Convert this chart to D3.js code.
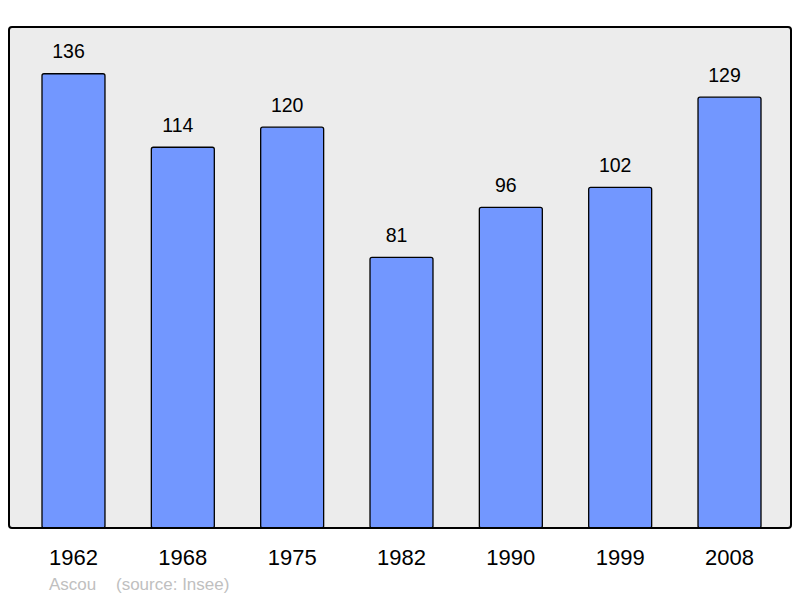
<!DOCTYPE html>
<html><head><meta charset="utf-8">
<script src="https://cdn.jsdelivr.net/npm/d3@7"></script>
<style>html,body{margin:0;padding:0;background:#fff;}</style>
</head><body>
<script>
const years = ["1962","1968","1975","1982","1990","1999","2008"];
const population = [136,114,120,81,96,102,129];
const yMax = 150;
const town = "Ascou";
const source = "(source: Insee)";

(function(){
const W = 800, H = 598;
const FONT = "'Liberation Sans', Arial, sans-serif";
const svg = d3.select("body").append("svg").attr("width", W).attr("height", H)
  .style("font-family", FONT);

const pL = 9, pR = 791, pT = 27, pB = 528;
svg.append("rect").attr("x", pL).attr("y", pT).attr("width", pR-pL).attr("height", pB-pT)
  .attr("rx", 3).attr("fill", "#ececec").attr("stroke", "none");

const x = d3.scaleBand().domain(years).range([42, 761]).paddingInner(0.424).paddingOuter(0);
const y = d3.scaleLinear().domain([0, yMax]).range([pB, pT]);

const data = years.map((yr,i)=>({yr, v: population[i]}));

svg.selectAll("rect.bar").data(data).enter().append("rect").attr("class","bar")
  .attr("x", d=>x(d.yr)).attr("y", d=>y(d.v)).attr("width", x.bandwidth())
  .attr("height", d=>pB - y(d.v)).attr("rx", 2)
  .attr("fill", "#7297ff").attr("stroke", "#000").attr("stroke-width", 1.3);

svg.selectAll("text.val").data(data).enter().append("text").attr("class","val")
  .attr("x", d=>x(d.yr)+x.bandwidth()/2-5).attr("y", d=>y(d.v)-15.5)
  .attr("text-anchor","middle").attr("font-size", 19.5).attr("fill","#000").text(d=>d.v);

svg.append("rect").attr("x", pL).attr("y", pT).attr("width", pR-pL).attr("height", pB-pT)
  .attr("rx", 3).attr("fill", "none").attr("stroke", "#000").attr("stroke-width", 2);

const xAxis = d3.axisBottom(x).tickSize(0).tickPadding(0);
const ax = svg.append("g").attr("transform", `translate(0,${pB})`).call(xAxis);
ax.select(".domain").remove();
ax.selectAll("text").attr("y", 37).attr("dy", 0)
  .attr("font-size", 22).attr("fill","#000")
  .style("font-family", FONT);

svg.append("text").attr("x", 49).attr("y", 590)
  .attr("font-size", 17).attr("fill", "#c0c0c0").text(town);
svg.append("text").attr("x", 116).attr("y", 590)
  .attr("font-size", 17).attr("fill", "#c0c0c0").text(source);
})();
</script>
</body></html>
